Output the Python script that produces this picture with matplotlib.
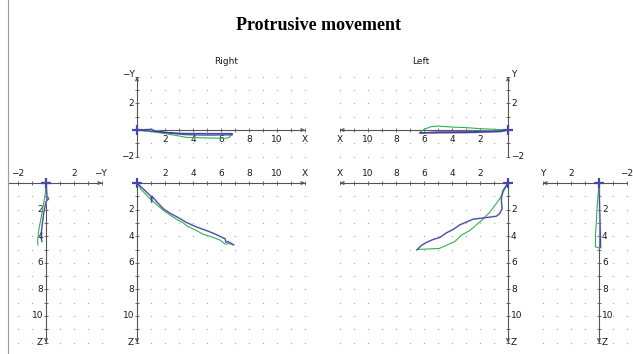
import numpy as np
import matplotlib.pyplot as plt
from matplotlib.lines import Line2D

W, H = 633, 354
SX, SY = 14.0, 13.3   # pixels per unit

BLUE = '#40409a'
GREEN = '#2fb24f'
AXC = '#555555'
TXT = '#1a1a1a'

# Right, sagittal view (X, -Y)
r_sag_blue_x = [0, 0.5, 1.05, 1.2, 2.0, 3.0, 5.0, 6.8, 6.8, 5.0, 3.5, 2.5, 1.0, 0]
r_sag_blue_y = [0, 0.02, 0.06, -0.05, -0.17, -0.25, -0.27, -0.27, -0.36, -0.38, -0.35, -0.25, -0.08, 0]
r_sag_green_x = [0, 1.0, 2.0, 3.0, 3.5, 5.0, 6.4, 6.6, 6.8]
r_sag_green_y = [0, -0.12, -0.27, -0.45, -0.55, -0.6, -0.62, -0.55, -0.3]

# Left, sagittal view (X, Y)
l_sag_blue_x = [0, 0.5, 3.0, 6.3, 5.0, 2.0, 0.5, 0]
l_sag_blue_y = [0, -0.12, -0.2, -0.22, -0.15, -0.12, -0.05, 0]
l_sag_green_x = [0, 1.0, 2.0, 3.0, 4.0, 5.0, 5.5, 6.0, 6.3]
l_sag_green_y = [0, 0.05, 0.1, 0.18, 0.22, 0.3, 0.25, 0.05, -0.2]

# Right, frontal view (X, Z)
r_fr_blue_x = [0, 0.5, 1.0, 1.05, 1.08, 1.4, 1.9, 2.4, 2.86, 3.5, 4.3, 4.9, 5.5, 6.3, 6.35, 6.5, 6.9]
r_fr_blue_z = [0, 0.5, 1.0, 1.45, 1.0, 1.4, 1.95, 2.3, 2.55, 2.95, 3.33, 3.55, 3.8, 4.2, 4.45, 4.4, 4.65]
r_fr_green_x = [0, 0.3, 0.95, 1.9, 2.5, 2.86, 3.3, 3.6, 4.3, 4.7, 5.2, 5.95, 6.3, 6.55, 6.9]
r_fr_green_z = [0, 0.5, 1.2, 2.08, 2.5, 2.75, 3.0, 3.25, 3.6, 3.85, 4.0, 4.3, 4.6, 4.55, 4.65]

# Left, frontal view (X, Z)
l_fr_blue_x = [0, 0.36, 0.48, 0.42, 0.6, 0.83, 1.55, 2.5, 3.0, 3.45, 3.93, 4.4, 4.88, 5.36, 5.83, 6.2, 6.5]
l_fr_blue_z = [0, 0.57, 1.2, 1.95, 2.3, 2.5, 2.6, 2.72, 2.95, 3.15, 3.5, 3.75, 4.1, 4.25, 4.47, 4.7, 5.03]
l_fr_green_x = [0, 0.6, 1.3, 1.85, 2.74, 3.3, 3.8, 4.9, 6.5]
l_fr_green_z = [0, 1.2, 2.2, 2.78, 3.58, 3.9, 4.4, 4.92, 5.0]

# Right, lateral view (-Y, Z)
r_lat_blue_h = [0, 0.05, 0.07, 0.19, 0.0, -0.17, -0.29, -0.36, -0.29]
r_lat_blue_z = [0, 0.6, 1.05, 1.18, 1.4, 2.3, 3.3, 4.05, 4.4]
r_lat_green_h = [0, -0.05, -0.21, -0.36, -0.52, -0.6, -0.57]
r_lat_green_z = [0, 0.8, 1.8, 2.67, 3.55, 4.3, 4.67]

# Left, lateral view (Y, Z)
l_lat_blue_h = [0, -0.04, -0.08, -0.12]
l_lat_blue_z = [0, 1.5, 3.2, 4.85]
l_lat_green_h = [0, 0.07, 0.14, 0.19, 0.24, 0.26, -0.05]
l_lat_green_z = [0, 0.95, 1.95, 2.95, 3.7, 4.8, 4.9]

fig = plt.figure(figsize=(W / 100, H / 100), dpi=100)
fig.patch.set_facecolor('white')


def px2pt(p):
    return p * 0.72


def panel(ox, oy, x0, x1, y0, y1, flipx=False, ydown=False):
    if flipx:
        lp, rp = ox - SX * x1, ox - SX * x0
    else:
        lp, rp = ox + SX * x0, ox + SX * x1
    if ydown:
        tp, bp = oy + SY * y0, oy + SY * y1
    else:
        tp, bp = oy - SY * y1, oy - SY * y0
    ax = fig.add_axes([lp / W, 1 - bp / H, (rp - lp) / W, (bp - tp) / H])
    ax.set_xlim((x1, x0) if flipx else (x0, x1))
    ax.set_ylim((y1, y0) if ydown else (y0, y1))
    ax.axis('off')
    return ax


def dots(ax, xs, ys):
    gx, gy = np.meshgrid(xs, ys)
    m = (gx != 0) & (gy != 0)
    ax.plot(gx[m], gy[m], ls='none', marker='s', ms=0.9, mew=0,
            color='#b4b4b4', clip_on=False)


def label(v):
    return '\u2212%d' % -v if v < 0 else '%d' % v


def haxis(ax, a, b, end, labels, off, label_end, end_off):
    ax.plot([a, b], [0, 0], color=AXC, lw=0.8, clip_on=False)
    ax.annotate('', xy=(end, 0), xytext=(end - np.sign(end) * 0.3, 0),
                arrowprops=dict(arrowstyle='->', color=AXC, lw=0.8,
                                mutation_scale=5, shrinkA=0, shrinkB=0))
    t = np.arange(np.ceil(min(a, b)), np.floor(max(a, b)) + 1)
    ax.plot(t, np.zeros_like(t), ls='none', marker='|', ms=3, mew=0.6,
            color=AXC, clip_on=False)
    for v in labels:
        ax.annotate(label(v), (v, 0),
                    xytext=(0, px2pt(off)), textcoords='offset points',
                    ha='center', va='center', fontsize=6.5, color=TXT)
    ax.annotate(label_end, (end, 0), xytext=(px2pt(end_off[0]), px2pt(end_off[1])),
                textcoords='offset points', ha='center', va='center',
                fontsize=6.5, color=TXT)


def vaxis(ax, a, b, end, labels, side, label_end, end_off):
    ax.plot([0, 0], [a, b], color=AXC, lw=0.8, clip_on=False)
    ax.annotate('', xy=(0, end), xytext=(0, end - np.sign(end) * 0.3),
                arrowprops=dict(arrowstyle='->', color=AXC, lw=0.8,
                                mutation_scale=5, shrinkA=0, shrinkB=0))
    t = np.arange(np.ceil(min(a, b)), np.floor(max(a, b)) + 1)
    ax.plot(np.zeros_like(t), t, ls='none', marker='_', ms=3, mew=0.6,
            color=AXC, clip_on=False)
    for v in labels:
        ax.annotate(label(v), (0, v),
                    xytext=(px2pt(3 * side), 0), textcoords='offset points',
                    ha='left' if side > 0 else 'right', va='center',
                    fontsize=6.5, color=TXT)
    ax.annotate(label_end, (0, end), xytext=(px2pt(end_off[0]), px2pt(end_off[1])),
                textcoords='offset points', ha='center', va='center',
                fontsize=6.5, color=TXT)


def origin(ax):
    ax.plot([0], [0], marker='+', ms=7.5, mew=1.6, color='#4848a8',
            clip_on=False, zorder=5)


def traces(ax, bx, by, gx, gy):
    ax.plot(bx, by, color='#b4b4e4', lw=1.3, clip_on=False, zorder=2)
    ax.plot(gx, gy, color=GREEN, lw=0.8, clip_on=False, zorder=3)
    ax.plot(bx, by, color=BLUE, lw=0.7, clip_on=False, zorder=4)


# A: right sagittal
ax = panel(137, 130, 0, 12, -2, 4)
dots(ax, np.arange(0, 13), np.arange(-2, 5))
haxis(ax, 0, 12, 12, [2, 4, 6, 8, 10], -10, 'X', (0, -10))
vaxis(ax, -2, 4, 4, [2, -2], -1, '\u2212Y', (-9, 2))
traces(ax, r_sag_blue_x, r_sag_blue_y, r_sag_green_x, r_sag_green_y)
origin(ax)

# B: left sagittal
ax = panel(508, 130, 0, 12, -2, 4, flipx=True)
dots(ax, np.arange(0, 13), np.arange(-2, 5))
haxis(ax, 0, 12, 12, [2, 4, 6, 8, 10], -10, 'X', (0, -10))
vaxis(ax, -2, 4, 4, [2, -2], 1, 'Y', (6, 2))
traces(ax, l_sag_blue_x, l_sag_blue_y, l_sag_green_x, l_sag_green_y)
origin(ax)

# C: right frontal
ax = panel(137, 183, 0, 12, 0, 12, ydown=True)
dots(ax, np.arange(0, 13), np.arange(0, 13))
haxis(ax, 0, 12, 12, [2, 4, 6, 8, 10], 10, 'X', (0, 10))
vaxis(ax, 0, 12, 12, [2, 4, 6, 8, 10], -1, 'Z', (-6, 0))
traces(ax, r_fr_blue_x, r_fr_blue_z, r_fr_green_x, r_fr_green_z)
origin(ax)

# D: left frontal
ax = panel(508, 183, 0, 12, 0, 12, flipx=True, ydown=True)
dots(ax, np.arange(0, 13), np.arange(0, 13))
haxis(ax, 0, 12, 12, [2, 4, 6, 8, 10], 10, 'X', (0, 10))
vaxis(ax, 0, 12, 12, [2, 4, 6, 8, 10], 1, 'Z', (6, 0))
traces(ax, l_fr_blue_x, l_fr_blue_z, l_fr_green_x, l_fr_green_z)
origin(ax)

# E: right lateral
ax = panel(46, 183, -2.7, 4, 0, 12, ydown=True)
dots(ax, np.arange(-2, 5), np.arange(0, 13))
haxis(ax, -2.7, 4, 4, [-2, 2], 10, '\u2212Y', (-2, 10))
vaxis(ax, 0, 12, 12, [2, 4, 6, 8, 10], -1, 'Z', (-6, 0))
traces(ax, r_lat_blue_h, r_lat_blue_z, r_lat_green_h, r_lat_green_z)
origin(ax)

# F: left lateral
ax = panel(599, 183, -2, 4, 0, 12, flipx=True, ydown=True)
dots(ax, np.arange(-2, 5), np.arange(0, 13))
haxis(ax, -2, 4, 4, [2, -2], 10, 'Y', (0, 10))
vaxis(ax, 0, 12, 12, [2, 4, 6, 8, 10], 1, 'Z', (6, 0))
traces(ax, l_lat_blue_h, l_lat_blue_z, l_lat_green_h, l_lat_green_z)
origin(ax)

fig.text(318 / W, 1 - 26 / H, 'Protrusive movement', ha='center', va='center',
         fontsize=13, fontweight='bold', family='Liberation Serif', color='black')
fig.text(226 / W, 1 - 61 / H, 'Right', ha='center', va='center', fontsize=6.5, color=TXT)
fig.text(421 / W, 1 - 61 / H, 'Left', ha='center', va='center', fontsize=6.5, color=TXT)

fig.add_artist(Line2D([8 / W, 8 / W], [0, 1], color='#9a9a9a', lw=0.8))

fig.savefig('out.png', dpi=100)
